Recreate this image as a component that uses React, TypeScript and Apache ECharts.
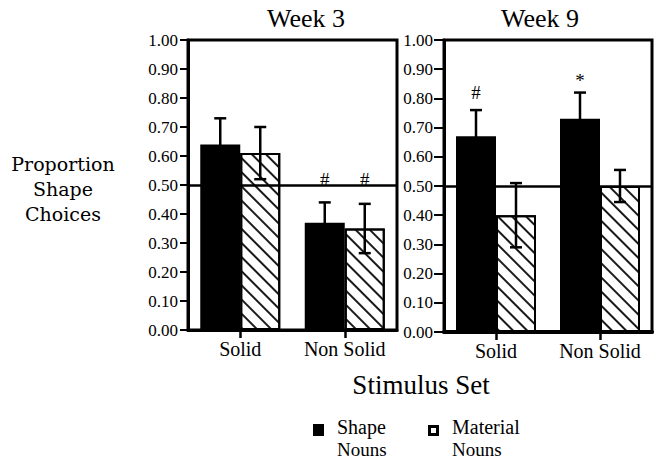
import { useEffect, useRef } from "react";
import * as echarts from "echarts";

// Stimulus sets on the category axis
const categories = ["Solid", "Non Solid"];

// Week 3 means and standard errors
const week3Shape = [0.64, 0.37];
const week3ShapeErr = [0.09, 0.07];
const week3Material = [0.61, 0.35];
const week3MaterialErr = [0.09, 0.085];

// Week 9 means and standard errors
const week9Shape = [0.67, 0.73];
const week9ShapeErr = [0.09, 0.09];
const week9Material = [0.4, 0.5];
const week9MaterialErr = [0.11, 0.055];

// Chance level reference line
const chanceLevel = 0.5;

// Significance marks: [category index, series (0 = shape, 1 = material), height, symbol]
const week3Marks: [number, number, number, string][] = [
  [1, 0, 0.52, "#"],
  [1, 1, 0.52, "#"],
];
const week9Marks: [number, number, number, string][] = [
  [0, 0, 0.82, "#"],
  [1, 0, 0.86, "*"],
];

const SERIF = "Liberation Serif";
const WIDE_SERIF = "DejaVu Serif";
const BAR_WIDTH = 40;

const hatch = {
  symbol: "rect",
  symbolSize: 1,
  color: "#1a1a1a",
  backgroundColor: "#fff",
  dashArrayX: [1, 0],
  dashArrayY: [2, 8],
  rotation: Math.PI / 4,
};

function xAxisFor(gridIndex: number, lineWidth: number) {
  return {
    type: "category",
    gridIndex,
    data: categories,
    axisLine: { show: true, lineStyle: { color: "#000", width: lineWidth } },
    axisTick: {
      show: true,
      alignWithLabel: true,
      length: 8,
      lineStyle: { color: "#000", width: 2.5 },
    },
    axisLabel: { color: "#000", fontFamily: SERIF, fontSize: 20, margin: 9, interval: 0 },
    splitLine: { show: false },
  };
}

function yAxisFor(gridIndex: number, margin: number, tickLen: number) {
  return {
    type: "value",
    gridIndex,
    min: 0,
    max: 1,
    interval: 0.1,
    axisLine: { show: true, lineStyle: { color: "#000", width: 3 } },
    axisTick: { show: true, length: tickLen, lineStyle: { color: "#000", width: 2 } },
    axisLabel: {
      color: "#000",
      fontFamily: SERIF,
      fontSize: 17,
      margin,
      formatter: (v: number) => v.toFixed(2),
    },
    splitLine: { show: false },
  };
}

function barPair(axis: number, shape: number[], material: number[]) {
  return [
    {
      type: "bar",
      name: "Shape Nouns",
      xAxisIndex: axis,
      yAxisIndex: axis,
      data: shape,
      barWidth: BAR_WIDTH,
      barGap: "0%",
      itemStyle: { color: "#000" },
      z: 2,
      markLine: {
        silent: true,
        symbol: "none",
        label: { show: false },
        lineStyle: { color: "#000", width: 2.5, type: "solid" },
        data: [{ yAxis: chanceLevel }],
      },
    },
    {
      type: "bar",
      name: "Material Nouns",
      xAxisIndex: axis,
      yAxisIndex: axis,
      data: material,
      barWidth: BAR_WIDTH,
      barGap: "0%",
      itemStyle: { color: "#fff", borderColor: "#000", borderWidth: 2, decal: hatch },
      z: 2,
    },
  ];
}

function errorBars(axis: number, values: number[], errs: number[], side: number) {
  const offset = (side * BAR_WIDTH) / 2;
  return {
    type: "custom",
    xAxisIndex: axis,
    yAxisIndex: axis,
    z: 4,
    silent: true,
    data: values.map((v, i) => [i, v, errs[i]]),
    renderItem: (_p: any, api: any) => {
      const cat = api.value(0);
      const v = api.value(1);
      const e = api.value(2);
      const top = api.coord([cat, v + e]);
      const bot = api.coord([cat, v - e]);
      const x = top[0] + offset;
      const st = { stroke: "#000", lineWidth: 2.5 };
      return {
        type: "group",
        children: [
          { type: "line", shape: { x1: x, y1: top[1], x2: x, y2: bot[1] }, style: st },
          { type: "line", shape: { x1: x - 6, y1: top[1], x2: x + 6, y2: top[1] }, style: st },
          { type: "line", shape: { x1: x - 6, y1: bot[1], x2: x + 6, y2: bot[1] }, style: st },
        ],
      };
    },
  };
}

function markSeries(axis: number, marks: [number, number, number, string][]) {
  return {
    type: "custom",
    xAxisIndex: axis,
    yAxisIndex: axis,
    z: 5,
    silent: true,
    data: marks.map((m) => [m[0], m[2], m[1] === 0 ? -1 : 1]),
    renderItem: (params: any, api: any) => {
      const m = marks[params.dataIndex];
      const p = api.coord([api.value(0), api.value(1)]);
      return {
        type: "text",
        x: p[0] + (api.value(2) * BAR_WIDTH) / 2,
        y: p[1],
        style: {
          text: m[3],
          fontFamily: SERIF,
          fontSize: 19,
          fill: "#000",
          textAlign: "center",
          textVerticalAlign: "middle",
        },
      };
    },
  };
}

export default function App() {
  const ref = useRef<HTMLDivElement>(null);

  useEffect(() => {
    if (!ref.current) return;
    const chart = echarts.init(ref.current, null, { renderer: "svg" });
    const label = (text: string, family: string, size: number, align: string, vAlign: string) => ({
      text,
      fontFamily: family,
      fontSize: size,
      fill: "#000",
      textAlign: align,
      textVerticalAlign: vAlign,
    });

    chart.setOption({
      animation: false,
      backgroundColor: "#fff",
      grid: [
        { left: 188, top: 40, width: 209, height: 290, show: true, borderColor: "#000", borderWidth: 3, backgroundColor: "transparent" },
        { left: 444, top: 40, width: 208, height: 292, show: true, borderColor: "#000", borderWidth: 3, backgroundColor: "transparent" },
      ],
      xAxis: [xAxisFor(0, 3), xAxisFor(1, 4)],
      yAxis: [yAxisFor(0, 10, 8), yAxisFor(1, 11, 10)],
      series: [
        ...barPair(0, week3Shape, week3Material),
        ...barPair(1, week9Shape, week9Material),
        errorBars(0, week3Shape, week3ShapeErr, -1),
        errorBars(0, week3Material, week3MaterialErr, 1),
        errorBars(1, week9Shape, week9ShapeErr, -1),
        errorBars(1, week9Material, week9MaterialErr, 1),
        markSeries(0, week3Marks),
        markSeries(1, week9Marks),
      ],
      graphic: [
        { type: "text", x: 306, y: 18, style: label("Week 3", SERIF, 26, "center", "middle") },
        { type: "text", x: 540, y: 18, style: label("Week 9", SERIF, 26, "center", "middle") },
        { type: "text", x: 63, y: 164, style: label("Proportion", WIDE_SERIF, 19, "center", "middle") },
        { type: "text", x: 63, y: 189, style: label("Shape", WIDE_SERIF, 19, "center", "middle") },
        { type: "text", x: 63, y: 214, style: label("Choices", WIDE_SERIF, 19, "center", "middle") },
        { type: "text", x: 421, y: 385, style: label("Stimulus Set", SERIF, 27, "center", "middle") },
        { type: "rect", shape: { x: 313, y: 424, width: 11, height: 12 }, style: { fill: "#000" } },
        {
          type: "rect",
          shape: { x: 429.5, y: 426.5, width: 8, height: 8 },
          style: { fill: "#fff", stroke: "#000", lineWidth: 3 },
        },
        { type: "text", x: 337, y: 427, style: label("Shape", SERIF, 20, "left", "middle") },
        { type: "text", x: 337, y: 449, style: label("Nouns", SERIF, 19, "left", "middle") },
        { type: "text", x: 452, y: 427, style: label("Material", SERIF, 20, "left", "middle") },
        { type: "text", x: 452, y: 449, style: label("Nouns", SERIF, 19, "left", "middle") },
      ],
    });
    return () => chart.dispose();
  }, []);

  return (
    <div
      ref={ref}
      style={{ position: "fixed", left: 0, top: 0, width: 657, height: 459, background: "#fff" }}
    />
  );
}
